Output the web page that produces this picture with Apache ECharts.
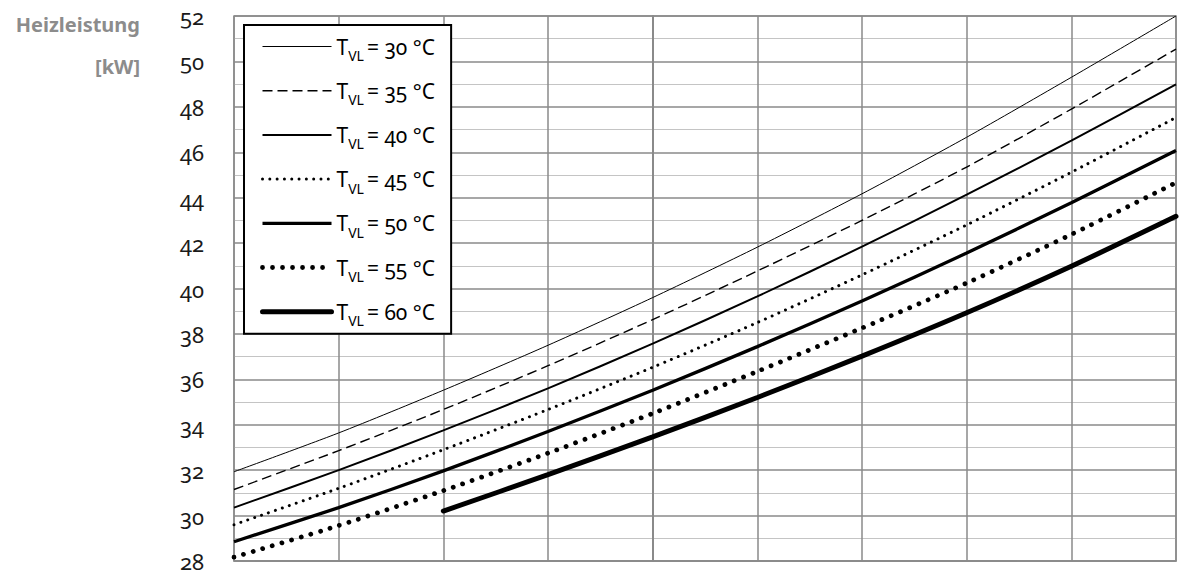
<!DOCTYPE html>
<html>
<head>
<meta charset="utf-8">
<script src="https://cdn.jsdelivr.net/npm/echarts@6/dist/echarts.min.js"></script>
<style>
  html, body { margin: 0; padding: 0; background: #fff; }
  #chart { width: 1179px; height: 572px; }
  /* old-style figures for all chart text */
  #chart text { font-variant-numeric: oldstyle-nums !important; font-feature-settings: "onum" 1 !important; }
</style>
</head>
<body>
<div id="chart"></div>
<script>
// Außentemperatur-Stützstellen (x) und Heizleistung in kW je Vorlauftemperatur
const xValues = [-20, -15, -10, -5, 0, 5, 10, 15, 20, 25];
const tvl30 = [31.93, 33.64, 35.52, 37.50, 39.60, 41.82, 44.17, 46.66, 49.30, 52.0];
const tvl35 = [31.15, 32.86, 34.67, 36.60, 38.63, 40.77, 43.00, 45.35, 47.90, 50.54];
const tvl40 = [30.35, 32.00, 33.75, 35.60, 37.57, 39.65, 41.84, 44.13, 46.51, 48.99];
const tvl45 = [29.60, 31.20, 32.90, 34.67, 36.53, 38.50, 40.60, 42.80, 45.12, 47.53];
const tvl50 = [28.85, 30.35, 31.97, 33.70, 35.52, 37.44, 39.45, 41.56, 43.78, 46.08];
const tvl55 = [28.17, 29.56, 31.10, 32.75, 34.50, 36.35, 38.26, 40.24, 42.38, 44.66];
const tvl60 = [null, null, 30.20, 31.80, 33.47, 35.20, 37.02, 38.93, 40.98, 43.18];

const seriesNames = ['30', '35', '40', '45', '50', '55', '60'];
const seriesValues = [tvl30, tvl35, tvl40, tvl45, tvl50, tvl55, tvl60];
const yTicks = { min: 28, max: 52, step: 2 };

// line appearance per flow temperature
const lineStyles = [
  { width: 1, type: 'solid' },
  { width: 1.4, type: [10, 5] },
  { width: 2, type: 'solid' },
  { width: 3, type: [0.01, 7.3], cap: 'round' },
  { width: 3.3, type: 'solid' },
  { width: 4.8, type: [0.01, 10], cap: 'round' },
  { width: 5, type: 'solid', cap: 'round' }
];

const FONT = '"Noto Sans", "Open Sans", sans-serif';
const GRID_MAJOR = '#8a8a8a';
const GRID_MINOR = '#c4c4c4';

const chart = echarts.init(document.getElementById('chart'), null, { renderer: 'svg' });

const series = seriesNames.map((name, i) => ({
  name: name,
  type: 'line',
  symbol: 'none',
  showSymbol: false,
  smooth: 0.25,
  z: 3,
  data: xValues.map((x, k) => [x, seriesValues[i][k]]).filter(d => d[1] != null),
  lineStyle: Object.assign({ color: '#000' }, lineStyles[i]),
  itemStyle: { color: '#000' }
}));

chart.setOption({
  animation: false,
  backgroundColor: '#fff',
  grid: {
    left: 234, right: 3, top: 16, bottom: 5,
    show: true, borderColor: GRID_MAJOR, borderWidth: 1.5
  },
  xAxis: {
    type: 'value',
    min: -20, max: 25, interval: 5,
    axisLabel: { show: false },
    axisTick: { show: false },
    axisLine: { show: true, lineStyle: { color: GRID_MAJOR, width: 1.5 } },
    splitLine: { show: true, lineStyle: { color: GRID_MAJOR, width: 1.5 } }
  },
  yAxis: {
    type: 'value',
    min: yTicks.min, max: yTicks.max, interval: yTicks.step,
    axisLabel: { fontSize: 22, color: '#1a1a1a', fontFamily: FONT, margin: 30 },
    axisTick: { show: false },
    axisLine: { show: true, lineStyle: { color: GRID_MAJOR, width: 2 } },
    splitLine: { show: true, lineStyle: { color: GRID_MAJOR, width: 1.5 } },
    minorTick: { show: false, splitNumber: 2 },
    minorSplitLine: { show: true, lineStyle: { color: GRID_MINOR, width: 1 } }
  },
  legend: {
    orient: 'vertical',
    left: 244, top: 25,
    padding: [11, 15, 6, 16],
    itemGap: 17.7,
    itemWidth: 69,
    itemHeight: 14,
    itemTextGap: 3,
    backgroundColor: '#fff',
    borderColor: '#000',
    borderWidth: 2,
    borderRadius: 0,
    z: 10,
    selectedMode: false,
    itemStyle: { opacity: 0 },
    lineStyle: { width: 'inherit' },
    data: seriesNames,
    formatter: name => '{t|T}{s|VL}{n|= ' + name + ' °C}',
    textStyle: {
      fontFamily: FONT,
      color: '#000',
      rich: {
        t: { fontSize: 21, fontFamily: FONT, color: '#000', lineHeight: 32 },
        s: { fontSize: 14, fontFamily: FONT, color: '#000', lineHeight: 14, verticalAlign: 'bottom' },
        n: { fontSize: 21, fontFamily: FONT, color: '#000', lineHeight: 32, padding: [0, 0, 0, 3] }
      }
    }
  },
  graphic: [
    {
      type: 'text', x: 140, y: 24,
      style: { text: 'Heizleistung', font: 'bold 20px ' + FONT, fill: '#8c8c8c', align: 'right', verticalAlign: 'middle' }
    },
    {
      type: 'text', x: 140, y: 66,
      style: { text: '[kW]', font: 'bold 20px ' + FONT, fill: '#8c8c8c', align: 'right', verticalAlign: 'middle' }
    }
  ],
  series: series
});
</script>
</body>
</html>
